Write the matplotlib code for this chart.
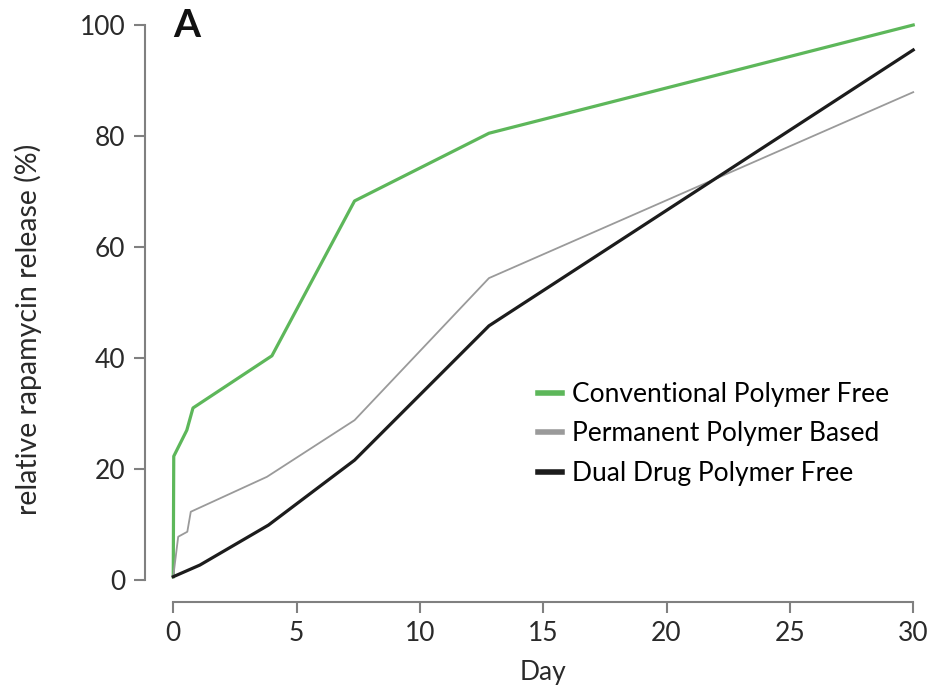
import matplotlib
matplotlib.use("Agg")
import matplotlib.pyplot as plt

plt.rcParams['font.family'] = ['Lato', 'DejaVu Sans']

# release curves (day, % released)
conv_day = [0, 0.02, 0.55, 0.8, 4.0, 7.35, 12.8, 30]
conv_rel = [0.6, 22.3, 27.0, 31.0, 40.4, 68.3, 80.5, 100.0]

perm_day = [0, 0.2, 0.57, 0.71, 3.8, 7.35, 12.8, 30]
perm_rel = [0.6, 7.8, 8.7, 12.3, 18.6, 28.8, 54.4, 87.9]

dual_day = [0, 1.08, 3.86, 7.35, 12.8, 30]
dual_rel = [0.6, 2.7, 9.9, 21.6, 45.8, 95.5]

xticks = [0, 5, 10, 15, 20, 25, 30]
yticks = [0, 20, 40, 60, 80, 100]

fig = plt.figure(figsize=(9.35, 6.87), dpi=100)
ax = fig.add_axes([0.1853, 0.1557, 0.7914, 0.8079])

ax.plot(conv_day, conv_rel, color='#5DB75A', lw=2.3, label='Conventional Polymer Free', clip_on=False)
ax.plot(perm_day, perm_rel, color='#9a9a9a', lw=1.3, label='Permanent Polymer Based', clip_on=False)
ax.plot(dual_day, dual_rel, color='#1c1c1c', lw=2.3, label='Dual Drug Polymer Free', clip_on=False)

ax.set_xlim(0, 30)
ax.set_ylim(0, 100)
ax.set_xticks(xticks)
ax.set_yticks(yticks)

# detached axis lines, like the original figure
for s in ['top', 'right']:
    ax.spines[s].set_visible(False)
ax.spines['left'].set_position(('data', -1.15))
ax.spines['bottom'].set_position(('data', -3.9))
ax.spines['left'].set_bounds(0, 100)
ax.spines['bottom'].set_bounds(0, 30)
for s in ['left', 'bottom']:
    ax.spines[s].set_color('#808080')
    ax.spines[s].set_linewidth(1.5)
ax.tick_params(axis='both', colors='#808080', width=1.5, length=8, labelsize=19,
               labelcolor='#2a2a2a', pad=6)

ax.set_xlabel('Day', fontsize=19, color='#2a2a2a', labelpad=10)
ax.set_ylabel('relative rapamycin release (%)', fontsize=20.5, color='#2a2a2a')
ax.yaxis.set_label_coords(-0.177, 0.452)

ax.text(0.0, 1.0, 'A', transform=ax.transAxes, fontsize=28, fontweight='bold',
        ha='left', va='center', color='#111111')

leg = ax.legend(loc='upper left', bbox_to_anchor=(0.493, 0.357), frameon=False, fontsize=19,
                borderpad=0, borderaxespad=0, handlelength=0.9, handletextpad=0.4,
                labelspacing=0.55)
for h in leg.get_lines():
    h.set_linewidth(4)

fig.savefig('out.png', dpi=100)
